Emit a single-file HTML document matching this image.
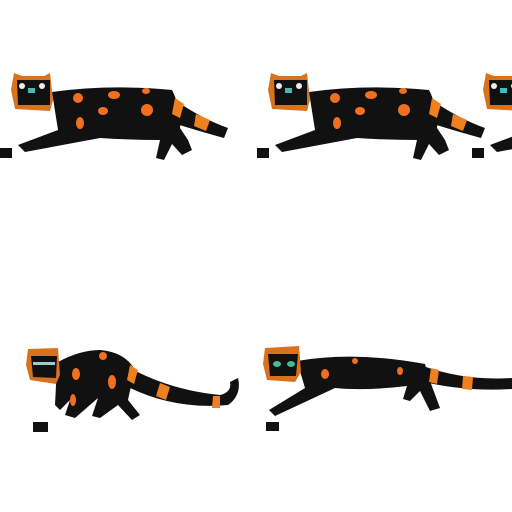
<!DOCTYPE html>
<html><head><meta charset="utf-8"><style>html,body{margin:0;padding:0;background:#fff}svg{display:block}</style></head>
<body>
<svg width="512" height="512" viewBox="0 0 512 512">
<defs>
<g id="catA">
  <path d="M52,92 Q110,84 172,90 Q182,110 180,128 L188,140 L192,150 L182,155 L172,144 L164,160 L156,158 L160,140 Q130,140 100,138 L25,152 L18,145 L58,130 Z" fill="#111"/>
  <path d="M172,98 Q200,118 228,128 L224,138 Q195,130 170,122 Z" fill="#111"/>
  <path d="M196,114 L210,120 L206,131 L194,126 Z" fill="#f07f20"/>
  <path d="M175,98 L184,104 L180,118 L172,114 Z" fill="#f07f20"/>
  <ellipse cx="78" cy="98" rx="5" ry="5" fill="#f07020"/>
  <ellipse cx="114" cy="95" rx="6" ry="4" fill="#f07020"/>
  <ellipse cx="146" cy="91" rx="4" ry="3" fill="#f07020"/>
  <ellipse cx="103" cy="111" rx="5" ry="4" fill="#f07020"/>
  <ellipse cx="147" cy="110" rx="6" ry="6" fill="#f07020"/>
  <ellipse cx="80" cy="123" rx="4" ry="6" fill="#f07020"/>
  <path d="M14,73 L22,76 L44,76 L50,73 L53,100 L50,111 L15,109 L11,90 Z" fill="#d8721c"/>
  <path d="M17,80 L50,80 L50,105 L18,105 Z" fill="#111"/>
  <circle cx="22" cy="86" r="3" fill="#eee"/><circle cx="42" cy="86" r="3" fill="#eee"/>
  <rect x="28" y="88" width="7" height="5" fill="#4bb"/>
  <rect x="0" y="148" width="12" height="10" fill="#111"/>
</g>
<g id="catB">
  <path d="M58,362 Q80,350 100,350 Q125,352 135,370 Q130,390 128,400 L140,415 L132,420 L118,405 L100,418 L92,416 L98,398 L75,418 L65,415 L70,400 L60,410 L55,405 L56,385 Z" fill="#111"/>
  <path d="M130,368 Q170,390 220,395 Q232,392 230,382 L238,378 Q242,395 228,405 Q175,410 128,387 Z" fill="#111"/>
  <path d="M160,383 L170,387 L166,400 L156,396 Z" fill="#f07f20"/>
  <path d="M130,365 L138,370 L134,384 L127,380 Z" fill="#f07f20"/>
  <path d="M213,396 L220,396 L220,408 L212,408 Z" fill="#f07f20"/>
  <ellipse cx="103" cy="356" rx="4" ry="4" fill="#f07020"/>
  <ellipse cx="76" cy="374" rx="4" ry="6" fill="#f07020"/>
  <ellipse cx="112" cy="382" rx="4" ry="7" fill="#f07020"/>
  <ellipse cx="73" cy="400" rx="3" ry="6" fill="#f07020"/>
  <path d="M28,349 L58,348 L60,375 L56,384 L30,380 L26,365 Z" fill="#d8721c"/>
  <path d="M31,356 L57,356 L56,378 L33,377 Z" fill="#111"/>
  <rect x="33" y="362" width="22" height="3" fill="#9cc"/>
  <rect x="33" y="422" width="15" height="10" fill="#111"/>
</g>
</defs>
<use href="#catA"/>
<use href="#catA" transform="translate(257,0)"/>
<use href="#catA" transform="translate(472,0)"/>
<use href="#catB"/>
<g transform="translate(235,-4)">
  <path d="M62,365 Q120,355 190,368 L195,385 L205,412 L195,415 L185,395 L175,405 L168,403 L172,390 Q130,395 100,392 L40,420 L34,414 L70,392 Z" fill="#111"/>
  <path d="M188,370 Q230,385 277,382 L277,393 Q230,396 185,385 Z" fill="#111"/>
  <path d="M196,372 L204,374 L202,388 L194,386 Z" fill="#f07f20"/>
  <path d="M228,380 L238,381 L237,394 L227,393 Z" fill="#f07f20"/>
  <ellipse cx="90" cy="378" rx="4" ry="5" fill="#f07020"/>
  <ellipse cx="120" cy="365" rx="3" ry="3" fill="#f07020"/>
  <ellipse cx="165" cy="375" rx="3" ry="4" fill="#f07020"/>
  <path d="M30,352 L64,350 L66,376 L60,386 L32,384 L28,368 Z" fill="#d8721c"/>
  <path d="M33,358 L63,358 L61,380 L35,380 Z" fill="#111"/>
  <ellipse cx="42" cy="368" rx="4" ry="3" fill="#4b9"/><ellipse cx="56" cy="368" rx="4" ry="3" fill="#4b9"/>
  <rect x="31" y="426" width="13" height="9" fill="#111"/>
</g>
</svg>
</body></html>
